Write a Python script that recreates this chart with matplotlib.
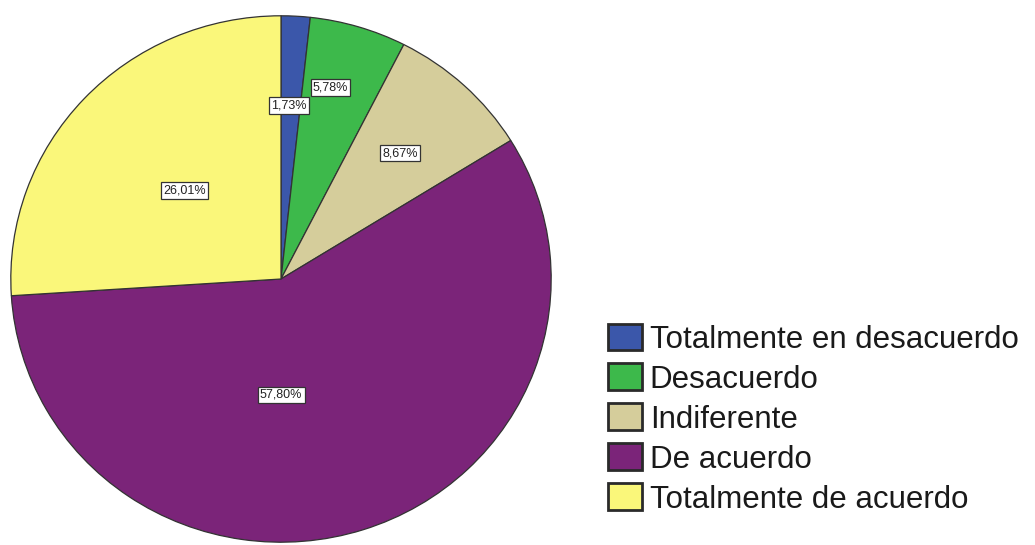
import numpy as np
import matplotlib
matplotlib.use("Agg")
import matplotlib.pyplot as plt

# Survey answers and their shares (%)
categories = ["Totalmente en desacuerdo", "Desacuerdo", "Indiferente",
              "De acuerdo", "Totalmente de acuerdo"]
shares = [1.73, 5.78, 8.67, 57.80, 26.01]
colors = ["#3B57AA", "#3DB94B", "#D5CD9B", "#7B2479", "#FAF77A"]

# label placement inside each wedge: distance from centre, angle tweak (deg)
label_dist = [0.66, 0.75, 0.65, 0.44, 0.49]
label_turn = [0.5, 2.5, 0, -17.6, 0]

plt.rcParams["font.family"] = ["Liberation Sans", "DejaVu Sans"]

fig = plt.figure(figsize=(10.35, 5.45), dpi=100)
W, H = 1035, 545
ax = fig.add_axes([10 / W, 2 / H, 542 / W, 528 / H])

wedges, _ = ax.pie(shares, colors=colors, startangle=90, counterclock=False,
                   radius=1.0, wedgeprops=dict(edgecolor="#333333", linewidth=0.9))
ax.set_aspect("auto")
ax.set_xlim(-1.003, 1.003)
ax.set_ylim(-1.003, 1.003)
ax.axis("off")

# percentage boxes
for w, val, d, t in zip(wedges, shares, label_dist, label_turn):
    mid = np.deg2rad((w.theta1 + w.theta2) / 2 + t)
    ax.text(d * np.cos(mid), d * np.sin(mid), f"{val:.2f}%".replace(".", ","),
            ha="center", va="center", fontsize=9, color="#222222",
            bbox=dict(boxstyle="square,pad=0.18", fc="white", ec="#333333", lw=0.9))

leg = fig.legend(wedges, categories, loc="upper left",
                 bbox_to_anchor=(595 / W, 1 - 311 / H), frameon=False,
                 fontsize=22.5, handlelength=1.1, handleheight=0.95,
                 handletextpad=0.25, labelspacing=0.28, borderaxespad=0)
for p in leg.get_patches():
    p.set_linewidth(2)
    p.set_edgecolor("#2a2a2a")
for txt in leg.get_texts():
    txt.set_color("#1a1a1a")

fig.savefig("out.png", dpi=100)
